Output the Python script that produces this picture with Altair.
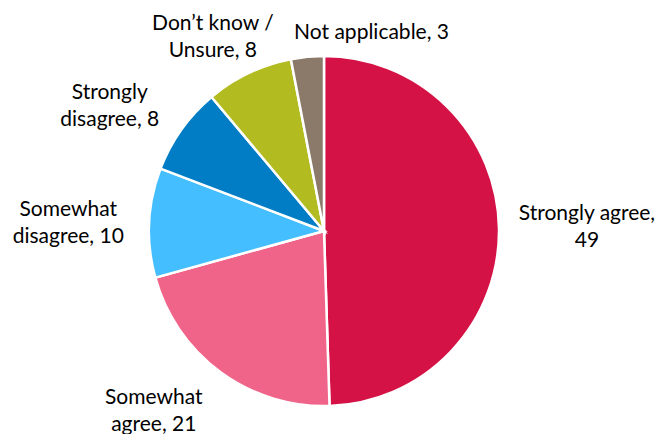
import altair as alt
import pandas as pd

# ---- data ----
categories = [
    "Strongly agree",
    "Somewhat agree",
    "Somewhat disagree",
    "Strongly disagree",
    "Don’t know / Unsure",
    "Not applicable",
]
values = [49, 21, 10, 8, 8, 3]
label_prefixes = [
    "Strongly agree,\n",
    "Somewhat\nagree, ",
    "Somewhat\ndisagree, ",
    "Strongly\ndisagree, ",
    "Don’t know /\nUnsure, ",
    "Not applicable, ",
]
colors = ["#D41246", "#F16489", "#45BEFF", "#007DC4", "#B2BB20", "#8B7A6A"]

df = pd.DataFrame({
    "category": categories,
    "value": values,
    "label": [p + str(v) for p, v in zip(label_prefixes, values)],
    "order": list(range(len(categories))),
})

# ---- layout / style ----
W, H = 651, 426
CX, CY = 316, 223
R = 175
FONT = "Lato"
FS = 21
LH = 27

# label placement: radius, dx, dy (relative to the slice mid-angle)
placement = {
    "Strongly agree": (268, -5, -13),
    "Somewhat agree": (250, -22, -34),
    "Somewhat disagree": (256, 0, -9),
    "Strongly disagree": (247, -13, 5),
    "Don’t know / Unsure": (226, -14, -3),
    "Not applicable": (194, 66, -5),
}

base = alt.Chart(df)

pie = base.mark_arc(outerRadius=R, stroke="white", strokeWidth=2.5).encode(
    theta=alt.Theta("value:Q", stack=True),
    color=alt.Color("category:N", scale=alt.Scale(domain=categories, range=colors), legend=None),
    order=alt.Order("order:Q"),
    x=alt.value(CX),
    y=alt.value(CY),
)

label_base = (
    base.transform_window(cum="sum(value)", sort=[alt.SortField("order")])
    .transform_joinaggregate(total="sum(value)")
    .transform_calculate(mid="(datum.cum - datum.value / 2) / datum.total * 2 * PI")
)

texts = []
for cat in categories:
    r, dx, dy = placement[cat]
    t = (
        label_base.transform_filter(alt.datum.category == cat)
        .mark_text(
            radius=r, dx=dx, dy=dy, lineBreak="\n", font=FONT, fontSize=FS,
            align="center", baseline="middle", lineHeight=LH, color="#000000",
        )
        .encode(
            theta=alt.Theta("mid:Q", scale=None),
            text="label:N",
            x=alt.value(CX),
            y=alt.value(CY),
        )
    )
    texts.append(t)

chart = (
    alt.layer(pie, *texts)
    .properties(width=W, height=H, autosize=alt.AutoSizeParams(type="none"), padding=0)
    .configure_view(stroke=None)
)

chart.save("out.html", embed_options={"renderer": "svg", "actions": False})
